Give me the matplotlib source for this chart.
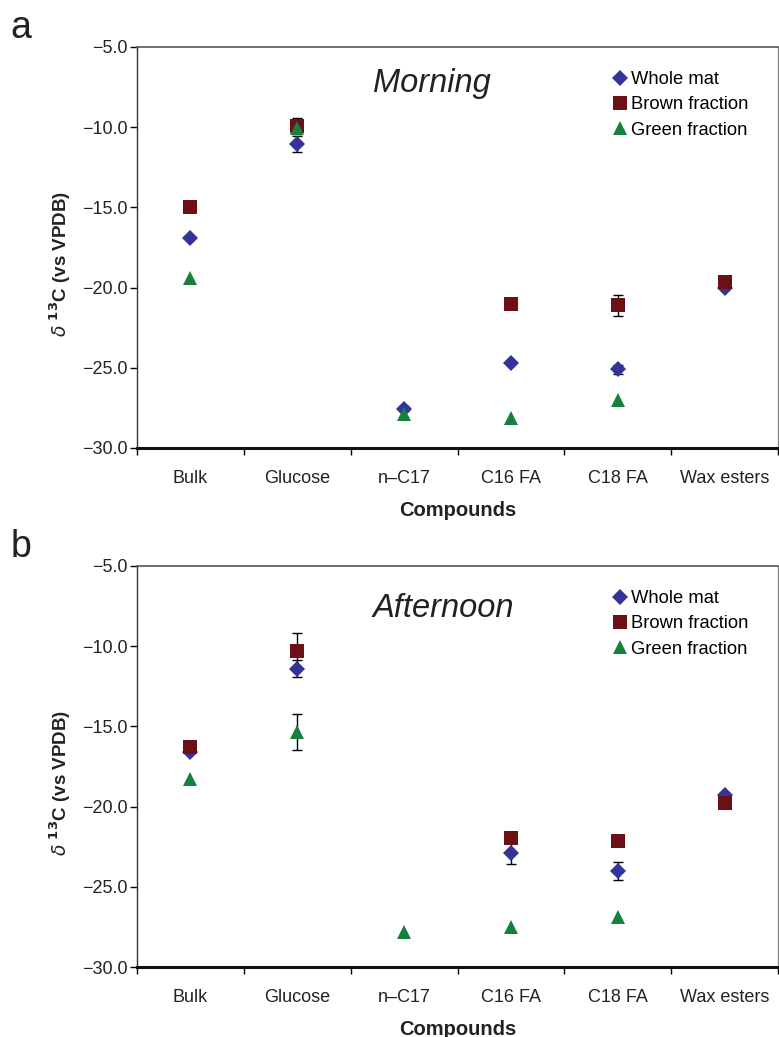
import matplotlib
matplotlib.use("Agg")
import matplotlib.pyplot as plt
import numpy as np

# compounds on the x axis
compounds = ['Bulk', 'Glucose', 'n\u2013C17', 'C16 FA', 'C18 FA', 'Wax esters']

# Morning (panel a) values, d13C vs VPDB
morning_whole = [-16.9, -11.05, -27.55, -24.7, -25.1, -20.0]
morning_brown = [-15.0, -9.93, np.nan, -21.05, -21.1, -19.65]
morning_green = [-19.4, -10.05, -27.9, -28.15, -27.0, np.nan]
morning_whole_err = [0, 0.5, 0.15, 0, 0.3, 0]
morning_brown_err = [0, 0.5, 0, 0, 0.65, 0.4]
morning_green_err = [0, 0, 0, 0, 0, 0]

# Afternoon (panel b)
afternoon_whole = [-16.6, -11.4, np.nan, -22.9, -24.0, -19.3]
afternoon_brown = [-16.3, -10.3, np.nan, -21.95, -22.15, -19.75]
afternoon_green = [-18.3, -15.35, -27.8, -27.5, -26.9, np.nan]
afternoon_whole_err = [0, 0.55, 0, 0.7, 0.55, 0]
afternoon_brown_err = [0, 1.15, 0, 0, 0, 0]
afternoon_green_err = [0, 1.1, 0, 0, 0, 0]

series_names = ['Whole mat', 'Brown fraction', 'Green fraction']
colors = ['#333399', '#6b1014', '#17803d']
markers = ['D', 's', '^']
msizes = [8.5, 9.5, 10]

plt.rcParams['font.family'] = ['Liberation Sans', 'DejaVu Sans']

fig = plt.figure(figsize=(7.79, 10.37), dpi=100)
ax_a = fig.add_axes([0.1759, 0.568, 0.8228, 0.3867])
ax_b = fig.add_axes([0.1759, 0.0675, 0.8228, 0.3867])

panels = [
    (ax_a, 'Morning', 'a', 0.888,
     [morning_whole, morning_brown, morning_green],
     [morning_whole_err, morning_brown_err, morning_green_err]),
    (ax_b, 'Afternoon', 'b', 0.873,
     [afternoon_whole, afternoon_brown, afternoon_green],
     [afternoon_whole_err, afternoon_brown_err, afternoon_green_err]),
]

x = np.arange(len(compounds)) + 0.5

for ax, title, letter, title_y, vals, errs in panels:
    for v, e, name, c, m, ms in zip(vals, errs, series_names, colors, markers, msizes):
        v = np.array(v, dtype=float)
        e = np.array(e, dtype=float)
        mask = e > 0
        ax.errorbar(x[mask], v[mask], yerr=e[mask], fmt='none', ecolor='black',
                    elinewidth=1.0, capsize=3.5, capthick=1.0, zorder=2)
        ax.plot(x, v, linestyle='none', marker=m, color=c, markersize=ms,
                markeredgewidth=0, label=name, zorder=3)

    ax.set_xlim(0, 6)
    ax.set_ylim(-30, -5)
    yt = np.arange(-30, -4, 5)
    ax.set_yticks(yt)
    ax.set_yticklabels(['\u2212%.1f' % abs(t) for t in yt], fontsize=13, color='#222222')
    ax.set_xticks(np.arange(0, 7))
    ax.set_xticklabels([])
    ax.set_xticks(x, minor=True)
    ax.set_xticklabels(compounds, minor=True, fontsize=13, color='#222222')
    ax.tick_params(axis='x', which='minor', length=0, pad=16)
    ax.tick_params(axis='x', which='major', direction='out', length=5, width=1)
    ax.tick_params(axis='y', direction='out', length=5, width=1, pad=2)

    ax.spines['bottom'].set_linewidth(2.2)
    ax.spines['bottom'].set_color('#111111')
    ax.spines['left'].set_linewidth(1.0)
    ax.spines['left'].set_color('#333333')
    ax.spines['top'].set_linewidth(1.2)
    ax.spines['top'].set_color('#555555')
    ax.spines['right'].set_linewidth(1.0)
    ax.spines['right'].set_color('#888888')

    ax.set_xlabel('Compounds', fontsize=14.5, fontweight='bold', color='#222222')
    ax.xaxis.set_label_coords(0.5, -0.132)
    ax.set_ylabel(r'$\delta$ $^{\mathbf{13}}$C (vs VPDB)', fontsize=13.5,
                  fontweight='bold', color='#222222')
    ax.yaxis.set_label_coords(-0.10, 0.46)

    ax.text(0.368, title_y, title, transform=ax.transAxes, fontsize=23.5,
            fontstyle='italic', ha='left', va='baseline', color='#222222')

    ax.legend(loc='upper left', bbox_to_anchor=(0.7415, 0.94), frameon=False,
              fontsize=13.2, handlelength=0.8, handletextpad=0.2,
              labelspacing=0.45, borderaxespad=0.0, borderpad=0.0)

    ax.text(-0.198, 1.022, letter, transform=ax.transAxes, fontsize=27,
            ha='left', va='baseline', color='#222222')

fig.savefig('out.png', dpi=100)
